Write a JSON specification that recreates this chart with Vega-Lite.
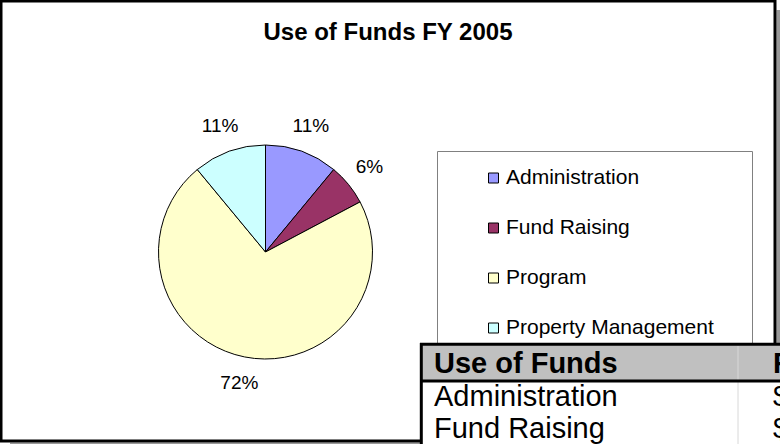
{
  "$schema": "https://vega.github.io/schema/vega-lite/v6.json",
  "autosize": {"type": "none"},
  "width": 774,
  "height": 440,
  "padding": {"left": 1, "top": 1, "right": 5, "bottom": 3},
  "background": "white",
  "config": {
    "view": {"stroke": null},
    "font": "Liberation Sans"
  },
  "title": {
    "text": "Use of Funds FY 2005",
    "font": "Liberation Sans",
    "fontSize": 24,
    "fontWeight": "bold",
    "color": "black",
    "anchor": "middle",
    "frame": "group",
    "offset": -45
  },
  "datasets": {
    "slices": [
      {"category": "Administration", "value": 11, "label": "11%", "idx": 1},
      {"category": "Fund Raising", "value": 6.25, "label": "6%", "idx": 2},
      {"category": "Program", "value": 71.75, "label": "72%", "idx": 3},
      {"category": "Property Management", "value": 11, "label": "11%", "idx": 4}
    ],
    "table": [
      {"row": "header", "item": "Use of Funds", "amount": "FY 2005"},
      {"row": "Administration", "item": "Administration", "amount": "$"},
      {"row": "Fund Raising", "item": "Fund Raising", "amount": "$"}
    ]
  },
  "layer": [
    {
      "data": {"values": [{"part": "right"}]},
      "mark": {"type": "rect", "color": "#999999"},
      "encoding": {"x": {"value": 775.5}, "x2": {"value": 780}, "y": {"value": 9}, "y2": {"value": 444}}
    },
    {
      "data": {"values": [{"part": "bottom"}]},
      "mark": {"type": "rect", "color": "#999999"},
      "encoding": {"x": {"value": 9}, "x2": {"value": 780}, "y": {"value": 441.5}, "y2": {"value": 444}}
    },
    {
      "data": {"values": [{"part": "frame"}]},
      "mark": {"type": "rect", "fill": "white", "stroke": "black", "strokeWidth": 3},
      "encoding": {"x": {"value": 0}, "x2": {"value": 774}, "y": {"value": 0}, "y2": {"value": 440}}
    },
    {
      "data": {"values": [{"part": "legendbox"}]},
      "mark": {"type": "rect", "fill": "white", "stroke": "#808080", "strokeWidth": 1},
      "encoding": {"x": {"value": 436.5}, "x2": {"value": 751.5}, "y": {"value": 150.5}, "y2": {"value": 370}}
    },
    {
      "data": {"name": "slices"},
      "mark": {"type": "arc", "outerRadius": 107, "stroke": "black", "strokeWidth": 1},
      "encoding": {
        "theta": {"field": "value", "type": "quantitative", "stack": true},
        "order": {"field": "idx", "type": "quantitative"},
        "x": {"value": 264.5},
        "y": {"value": 251},
        "color": {
          "field": "category",
          "type": "nominal",
          "scale": {
            "domain": ["Administration", "Fund Raising", "Program", "Property Management"],
            "range": ["#9999FF", "#993366", "#FFFFCC", "#CCFFFF"]
          },
          "legend": {
            "orient": "none",
            "legendX": 436,
            "legendY": 150.5,
            "title": null,
            "padding": 16,
            "symbolType": "square",
            "symbolSize": 100,
            "symbolStrokeColor": "black",
            "symbolStrokeWidth": 1,
            "symbolOffset": 30,
            "labelOffset": 2,
            "labelLimit": 400,
            "labelFont": "Liberation Sans",
            "labelFontSize": 21,
            "labelColor": "black",
            "rowPadding": 28
          }
        }
      }
    },
    {
      "data": {"name": "slices"},
      "mark": {"type": "text", "radius": 134, "font": "Liberation Sans", "fontSize": 19, "color": "black"},
      "encoding": {
        "theta": {"field": "value", "type": "quantitative", "stack": true},
        "order": {"field": "idx", "type": "quantitative"},
        "detail": {"field": "category", "type": "nominal"},
        "x": {"value": 264.5},
        "y": {"value": 251},
        "text": {"field": "label", "type": "nominal"}
      }
    },
    {
      "data": {"values": [{"part": "table"}]},
      "mark": {"type": "rect", "color": "white"},
      "encoding": {"x": {"value": 419}, "x2": {"value": 781}, "y": {"value": 342}, "y2": {"value": 445}}
    },
    {
      "data": {"values": [{"part": "header"}]},
      "mark": {"type": "rect", "color": "#C0C0C0"},
      "encoding": {"x": {"value": 419}, "x2": {"value": 781}, "y": {"value": 343}, "y2": {"value": 380}}
    },
    {
      "data": {"values": [{"part": "divider"}]},
      "mark": {"type": "rule", "color": "#D8D8D8", "strokeWidth": 1},
      "encoding": {"x": {"value": 737}, "y": {"value": 345}, "y2": {"value": 445}}
    },
    {
      "data": {"values": [{"part": "top"}, {"part": "headerline"}]},
      "mark": {"type": "rule", "color": "black", "strokeWidth": 3},
      "encoding": {
        "y": {"field": "part", "type": "nominal", "scale": {"type": "point", "domain": ["top", "headerline"], "range": [343.3, 380], "padding": 0}, "axis": null},
        "x": {"value": 419},
        "x2": {"value": 781}
      }
    },
    {
      "data": {"values": [{"part": "left"}]},
      "mark": {"type": "rule", "color": "black", "strokeWidth": 3},
      "encoding": {"x": {"value": 420.3}, "y": {"value": 342}, "y2": {"value": 445}}
    },
    {
      "data": {"name": "table"},
      "transform": [{"filter": "datum.row === 'header'"}],
      "layer": [
        {
          "mark": {"type": "text", "align": "left", "baseline": "alphabetic", "font": "Liberation Sans", "fontSize": 29, "fontWeight": "bold", "color": "black"},
          "encoding": {"x": {"value": 433}, "y": {"value": 372}, "text": {"field": "item", "type": "nominal"}}
        },
        {
          "mark": {"type": "text", "align": "left", "baseline": "alphabetic", "font": "Liberation Sans", "fontSize": 29, "fontWeight": "bold", "color": "black"},
          "encoding": {"x": {"value": 772}, "y": {"value": 372}, "text": {"field": "amount", "type": "nominal"}}
        }
      ]
    },
    {
      "data": {"name": "table"},
      "transform": [{"filter": "datum.row !== 'header'"}],
      "layer": [
        {
          "mark": {"type": "text", "align": "left", "baseline": "alphabetic", "font": "Liberation Sans", "fontSize": 29, "color": "black"},
          "encoding": {
            "x": {"value": 433},
            "y": {"field": "row", "type": "ordinal", "scale": {"type": "point", "domain": ["Administration", "Fund Raising"], "range": [405, 436.7], "padding": 0}, "axis": null},
            "text": {"field": "item", "type": "nominal"}
          }
        },
        {
          "mark": {"type": "text", "align": "left", "baseline": "alphabetic", "font": "Liberation Sans", "fontSize": 29, "color": "black"},
          "encoding": {
            "x": {"value": 772},
            "y": {"field": "row", "type": "ordinal", "scale": {"type": "point", "domain": ["Administration", "Fund Raising"], "range": [405, 436.7], "padding": 0}, "axis": null},
            "text": {"field": "amount", "type": "nominal"}
          }
        }
      ],
      "resolve": {"scale": {"y": "shared"}}
    }
  ],
  "resolve": {"scale": {"y": "independent"}}
}
